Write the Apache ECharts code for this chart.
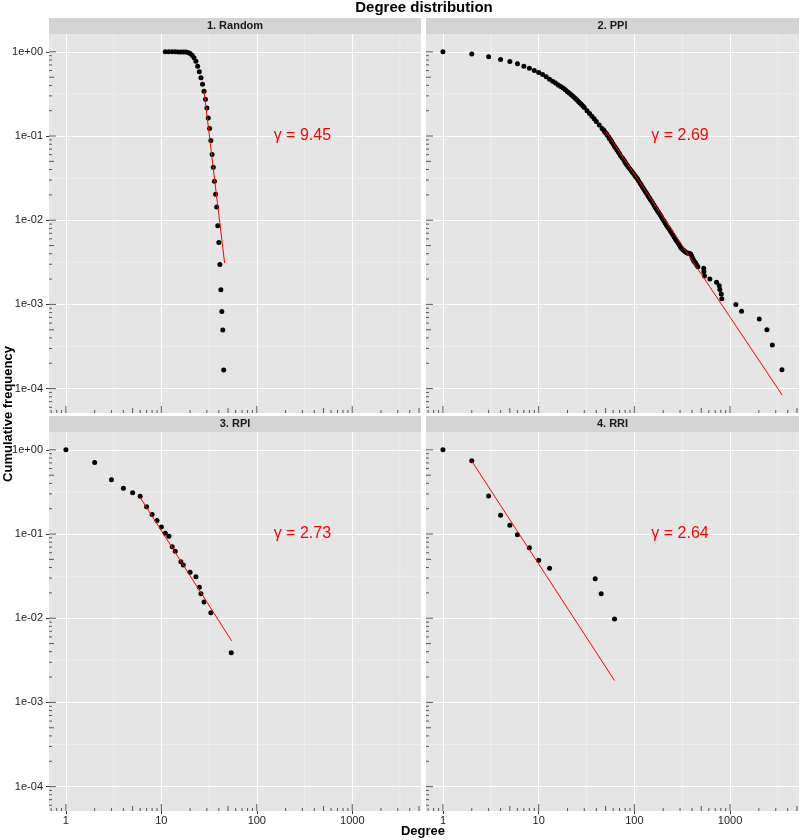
<!DOCTYPE html>
<html><head><meta charset="utf-8">
<script src="https://cdn.jsdelivr.net/npm/echarts@6/dist/echarts.min.js"></script>
<style>html,body{margin:0;padding:0;background:#fff}#c{width:800px;height:840px}</style>
</head><body><div id="c"></div>
<script>
// ---------------- data ----------------
const chartTitle = 'Degree distribution';
const xTitle = 'Degree';
const yTitle = 'Cumulative frequency';
const panelTitles = ['1. Random', '2. PPI', '3. RPI', '4. RRI'];
const gammaLabels = ['\u03b3 = 9.45', '\u03b3 = 2.69', '\u03b3 = 2.73', '\u03b3 = 2.64'];
const gammaX = 300, gammaY = 0.1;

const xTickValues = [1, 10, 100, 1000];
const yTickValues = [1e-4, 1e-3, 1e-2, 1e-1, 1];

const randomDegree = [11,12,13,14,15,16,17,18,19,20,21,22,23,24,25,26,27,28,29,30,31,32,33,34,35,36,37,38,39,40,41,42,43,44,45];
const randomFreq = [1,1,1,0.9998,0.999,0.998,0.996,0.994,0.985,0.957,0.914,0.849,0.775,0.673,0.579,0.494,0.413,0.341,0.274,0.216,0.164,0.123,0.0887,0.0604,0.0427,0.0291,0.0204,0.0144,0.00858,0.00545,0.00298,0.00149,0.000826,0.000495,0.000166];

const ppiDegree = [1,2,3,4,5,6,7,8,9,10,11,
  12,13,14,15,16,17,18,19,20,21,22,23,24,25,26,27,28,29,30,
  32,34,36,38,40,43,
  46,48,49,51,52,54,55,57,58,60,62,64,66,68,70,72,75,78,80,82,
  84,87,90,93,96,99,102,105,108,111,115,118,122,126,130,134,138,142,146,150,
  155,160,165,170,175,180,186,192,198,204,210,216,223,230,237,244,252,260,268,276,
  285,294,303,312,322,332,343,354,365,376,387,395,402,410,418,427,436,448,461,
  530,533,541,615,722,771,782,809,820,1150,1318,2019,2427,2762,3483];
const ppiFreq = [1,0.94,0.873,0.812,0.769,0.721,0.676,0.638,0.60,0.57,0.54,
  0.505,0.474,0.449,0.426,0.405,0.388,0.372,0.354,0.337,0.322,0.308,0.295,0.282,0.269,0.257,0.247,0.237,0.227,0.218,
  0.200,0.185,0.172,0.160,0.149,0.135,
  0.1230,0.1173,0.1120,0.1071,0.1026,0.0977,0.0931,0.0890,0.0851,0.0803,0.0759,0.0719,0.0682,0.0648,0.0616,0.0580,0.0547,0.0517,0.0490,0.0470,
  0.0450,0.0427,0.0406,0.0387,0.0369,0.0352,0.0336,0.0322,0.0308,0.0293,0.0275,0.0262,0.0247,0.0233,0.0220,0.0209,0.0198,0.0188,0.0179,0.0170,
  0.0161,0.0152,0.0143,0.0136,0.0129,0.0123,0.0116,0.0109,0.0103,0.0098,0.0093,0.0088,0.0083,0.0079,0.0075,0.0071,0.0067,0.0063,0.0060,0.0057,
  0.0054,0.0051,0.0048,0.00462,0.00447,0.00433,0.00420,0.00412,0.00406,0.00402,0.00398,0.0038,0.0036,0.00343,0.0033,0.0032,0.0031,0.00294,0.0028,
  0.00268,0.00245,0.00217,0.0020,0.00183,0.00167,0.0015,0.00133,0.00117,0.0010,0.00083,0.00067,0.0005,0.00033,0.000167];

const rpiDegree = [1,2,3,4,5,6,7,8,9,10,11,12,13,14,16,17,20,23,25,26,28,33,54];
const rpiFreq = [1,0.709,0.441,0.351,0.309,0.282,0.211,0.171,0.145,0.121,0.102,0.0939,0.0707,0.0623,0.0469,0.0429,0.0351,0.0311,0.0233,0.0196,0.0156,0.0116,0.00388];

const rriDegree = [1,2,3,4,5,6,8,10,13,39,45,62];
const rriFreq = [1,0.745,0.284,0.167,0.127,0.098,0.0686,0.049,0.0392,0.0294,0.0196,0.0098];

// power-law fit lines (end points)
const fitRandomX = [28, 46],   fitRandomY = [0.341, 0.0031];
const fitPpiX = [50.7, 3500],  fitPpiY = [0.112, 8.4e-5];
const fitRpiX = [6, 54.5],     fitRpiY = [0.272, 0.00538];
const fitRriX = [2, 62],       fitRriY = [0.734, 0.00182];

// ---------------- layout ----------------
const X_MIN = 0.665, X_MAX = 5250, Y_MIN = 5.13e-5, Y_MAX = 1.63;
const grids = [
  {left: 49, top: 34, width: 372, height: 379},
  {left: 426, top: 34, width: 373, height: 379},
  {left: 49, top: 432, width: 372, height: 379},
  {left: 426, top: 432, width: 373, height: 379}
];
const STRIP_H = 16;
const FONT = 'Liberation Sans, Arial, sans-serif';

const panelX = [randomDegree, ppiDegree, rpiDegree, rriDegree];
const panelY = [randomFreq, ppiFreq, rpiFreq, rriFreq];
const fitX = [fitRandomX, fitPpiX, fitRpiX, fitRriX];
const fitY = [fitRandomY, fitPpiY, fitRpiY, fitRriY];

function zip(a, b) { return a.map((v, i) => [v, b[i]]); }
function fmtExp(v) {
  const e = Math.round(Math.log10(v));
  return '1e' + (e < 0 ? '-' : '+') + String(Math.abs(e)).padStart(2, '0');
}

// log-tick decorations (axis ornaments, like annotation_logticks)
const logMantissas = [1,2,3,4,5,6,7,8,9];
const logDecades = [-5,-4,-3,-2,-1,0,1,2,3];
const decor = [];
logDecades.forEach(d => logMantissas.forEach(m => {
  const v = m * Math.pow(10, d);
  if (v >= X_MIN && v <= X_MAX) decor.push([0, v, 1, m]);
  if (v >= Y_MIN && v <= Y_MAX) decor.push([1, 1, v, m]);
}));
logDecades.forEach(d => {
  const v = Math.pow(10, d + 0.5);
  if (v >= X_MIN && v <= X_MAX) decor.push([2, v, 1, 0]);
  if (v >= Y_MIN && v <= Y_MAX) decor.push([3, 1, v, 0]);
});

function renderDecor(params, api) {
  const cs = params.coordSys;
  const kind = api.value(0), m = api.value(3);
  const p = api.coord([api.value(1), api.value(2)]);
  const len = m === 1 ? 7 : (m === 5 ? 5 : 3);
  const bottom = cs.y + cs.height;
  if (kind === 0) return {type: 'line', silent: true, shape: {x1: p[0], y1: bottom, x2: p[0], y2: bottom - len}, style: {stroke: '#333', lineWidth: 0.8}};
  if (kind === 1) return {type: 'line', silent: true, shape: {x1: cs.x, y1: p[1], x2: cs.x + len, y2: p[1]}, style: {stroke: '#333', lineWidth: 0.8}};
  if (kind === 2) return {type: 'line', silent: true, z2: -1, shape: {x1: p[0], y1: cs.y, x2: p[0], y2: bottom}, style: {stroke: '#f3f3f3', lineWidth: 0.6}};
  return {type: 'line', silent: true, z2: -1, shape: {x1: cs.x, y1: p[1], x2: cs.x + cs.width, y2: p[1]}, style: {stroke: '#f3f3f3', lineWidth: 0.6}};
}

const option = {
  animation: false,
  backgroundColor: '#ffffff',
  textStyle: {fontFamily: FONT},
  grid: grids.map(g => Object.assign({show: true, backgroundColor: '#e5e5e5', borderWidth: 0, containLabel: false, outerBoundsMode: 'none'}, g)),
  xAxis: grids.map((g, i) => ({
    type: 'log', logBase: 10, gridIndex: i, min: X_MIN, max: X_MAX,
    axisLine: {show: false},
    axisTick: {show: i >= 2, length: 3, customValues: xTickValues, lineStyle: {color: '#333', width: 1}},
    axisLabel: {show: i >= 2, customValues: xTickValues, formatter: v => String(Math.round(v)), color: '#222', fontSize: 11, fontFamily: FONT, margin: 4},
    splitLine: {show: true, lineStyle: {color: '#ffffff', width: 1}}
  })),
  yAxis: grids.map((g, i) => ({
    type: 'log', logBase: 10, gridIndex: i, min: Y_MIN, max: Y_MAX,
    axisLine: {show: false},
    axisTick: {show: i % 2 === 0, length: 3, customValues: yTickValues, lineStyle: {color: '#333', width: 1}},
    axisLabel: {show: i % 2 === 0, customValues: yTickValues, formatter: fmtExp, color: '#222', fontSize: 11, fontFamily: FONT, margin: 6},
    splitLine: {show: true, lineStyle: {color: '#ffffff', width: 1}}
  })),
  series: [],
  graphic: []
};

grids.forEach((g, i) => {
  option.series.push({
    type: 'custom', xAxisIndex: i, yAxisIndex: i, z: 1, silent: true,
    dimensions: ['k', 'x', 'y', 'm'], encode: {x: 1, y: 2},
    renderItem: renderDecor, data: decor
  });
  option.series.push({
    type: 'scatter', xAxisIndex: i, yAxisIndex: i, z: 4, silent: true,
    symbol: 'circle', symbolSize: 5, itemStyle: {color: '#000000', opacity: 1},
    data: zip(panelX[i], panelY[i])
  });
  option.series.push({
    type: 'line', xAxisIndex: i, yAxisIndex: i, z: 5, silent: true,
    showSymbol: false, symbol: 'none', lineStyle: {color: '#ff0000', width: 1},
    data: zip(fitX[i], fitY[i])
  });
  option.series.push({
    type: 'scatter', xAxisIndex: i, yAxisIndex: i, z: 6, silent: true,
    symbolSize: 1, itemStyle: {opacity: 0},
    label: {show: true, position: 'inside', formatter: gammaLabels[i], color: '#ff0000', fontSize: 16, fontFamily: FONT, opacity: 1},
    data: [[gammaX, gammaY]]
  });
  option.graphic.push({
    type: 'rect', silent: true,
    shape: {x: g.left, y: g.top - STRIP_H, width: g.width, height: STRIP_H},
    style: {fill: '#d4d4d4'}
  });
  option.graphic.push({
    type: 'text', silent: true,
    x: g.left + g.width / 2, y: g.top - STRIP_H / 2,
    style: {text: panelTitles[i], font: 'bold 11px ' + FONT, fill: '#1a1a1a', align: 'center', verticalAlign: 'middle'}
  });
});

option.graphic.push({
  type: 'text', silent: true, x: 424, y: 8,
  style: {text: chartTitle, font: 'bold 15px ' + FONT, fill: '#000', align: 'center', verticalAlign: 'middle'}
});
option.graphic.push({
  type: 'text', silent: true, x: 423, y: 831,
  style: {text: xTitle, font: 'bold 13px ' + FONT, fill: '#000', align: 'center', verticalAlign: 'middle'}
});
option.graphic.push({
  type: 'text', silent: true, x: 8, y: 414, rotation: Math.PI / 2,
  style: {text: yTitle, font: 'bold 13px ' + FONT, fill: '#000', align: 'center', verticalAlign: 'middle'}
});

const chart = echarts.init(document.getElementById('c'), null, {renderer: 'canvas'});
chart.setOption(option);
</script>
</body></html>
